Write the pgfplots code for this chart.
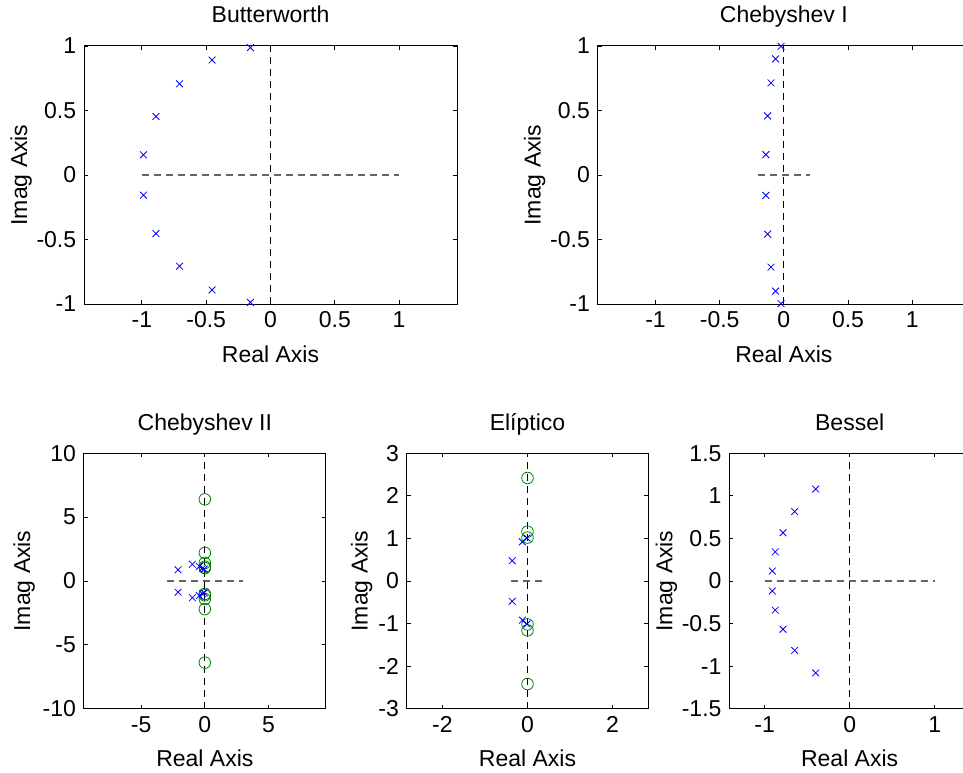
\documentclass[border=0pt]{standalone}
\usepackage{fontspec}
\setmainfont{Liberation Sans}
\usepackage{pgfplots}
\pgfplotsset{compat=1.18}

\definecolor{zgreen}{rgb}{0,0.5,0}

\pgfplotsset{
  pz/.style={
    scale only axis, anchor=south west, clip=false,
    axis line style={line width=1pt},
    tick style={black, line width=0.8pt},
    major tick length=4pt,
    /pgf/number format/assume math mode=true,
    title style={at={(axis description cs:0.5,1)}, anchor=base, yshift=17pt},
    xlabel style={at={(axis description cs:0.5,0)}, anchor=base, yshift=-58pt},
    xlabel={Real Axis}, ylabel={Imag Axis},
  },
  ylab/.style={ylabel style={at={(axis description cs:#1,0.5)}, anchor=base}},
  poles/.style={only marks, mark=x, mark size=4.8pt, blue, mark options={line width=0.8pt}},
  zeros/.style={only marks, mark=o, mark size=5.8pt, zgreen, mark options={line width=0.8pt}},
  hline/.style={black!60, line width=1.1pt, dash pattern=on 7pt off 5pt},
  vline/.style={black, line width=0.8pt, dash pattern=on 7pt off 5pt},
}

\begin{document}
\fontsize{23}{27}\selectfont
\begin{tikzpicture}
\path[use as bounding box] (0,0) rectangle (963pt,772pt);
\clip (0,0) rectangle (963pt,772pt);

% Butterworth, order 10
\begin{axis}[pz, ylab=-0.1528, at={(84pt,468pt)}, width=373pt, height=258pt,
  title={Butterworth},
  xmin=-1.45, xmax=1.45, ymin=-1, ymax=1,
  xtick={-1,-0.5,0,0.5,1}, ytick={-1,-0.5,0,0.5,1}]
  \addplot[hline] coordinates {(-1,0) (1,0)};
  \addplot[vline] coordinates {(0,-1) (0,1)};
  \addplot[poles] coordinates {
    (-0.1564,0.9877) (-0.4540,0.8910) (-0.7071,0.7071) (-0.8910,0.4540) (-0.9877,0.1564)
    (-0.1564,-0.9877) (-0.4540,-0.8910) (-0.7071,-0.7071) (-0.8910,-0.4540) (-0.9877,-0.1564)};
\end{axis}

% Chebyshev type I, order 10
\begin{axis}[pz, ylab=-0.1531, at={(597.7pt,468pt)}, width=372.3pt, height=258pt,
  title={Chebyshev I},
  xmin=-1.45, xmax=1.45, ymin=-1, ymax=1,
  xtick={-1,-0.5,0,0.5,1}, ytick={-1,-0.5,0,0.5,1}]
  \addplot[hline] coordinates {(-0.2,0) (0.2,0)};
  \addplot[vline] coordinates {(0,-1) (0,1)};
  \addplot[poles] coordinates {
    (-0.0222,0.9976) (-0.0644,0.9000) (-0.1003,0.7140) (-0.1263,0.4585) (-0.1400,0.1580)
    (-0.0222,-0.9976) (-0.0644,-0.9000) (-0.1003,-0.7140) (-0.1263,-0.4585) (-0.1400,-0.1580)};
\end{axis}

% Chebyshev type II, order 10
\begin{axis}[pz, ylab=-0.2216, at={(83.7pt,63.3pt)}, width=242.3pt, height=255.4pt,
  title={Chebyshev II},
  xmin=-9.5, xmax=9.5, ymin=-10, ymax=10,
  xtick={-5,0,5}, ytick={-10,-5,0,5,10}]
  \addplot[hline] coordinates {(-3,0) (3,0)};
  \addplot[vline] coordinates {(0,-10) (0,10)};
  \addplot[zeros] coordinates {
    (0,1.0125) (0,1.1223) (0,1.4142) (0,2.2027) (0,6.3925)
    (0,-1.0125) (0,-1.1223) (0,-1.4142) (0,-2.2027) (0,-6.3925)};
  \addplot[poles] coordinates {
    (-2.100,0.877) (-0.976,1.311) (-0.434,1.143) (-0.194,1.001) (-0.056,0.933)
    (-2.100,-0.877) (-0.976,-1.311) (-0.434,-1.143) (-0.194,-1.001) (-0.056,-0.933)};
\end{axis}

% Elliptic, order 6
\begin{axis}[pz, ylab=-0.1614, at={(406.7pt,63.3pt)}, width=241.6pt, height=255.4pt,
  title={Elíptico},
  xmin=-2.84, xmax=2.84, ymin=-3, ymax=3,
  xtick={-2,0,2}, ytick={-3,-2,-1,0,1,2,3}]
  \addplot[hline] coordinates {(-0.38,0) (0.38,0)};
  \addplot[vline] coordinates {(0,-3) (0,3)};
  \addplot[zeros] coordinates {
    (0,1.02) (0,1.16) (0,2.42) (0,-1.02) (0,-1.16) (0,-2.42)};
  \addplot[poles] coordinates {
    (-0.36,0.477) (-0.12,0.92) (-0.012,1.01)
    (-0.36,-0.477) (-0.12,-0.92) (-0.012,-1.01)};
\end{axis}

% Bessel, order 10
\begin{axis}[pz, ylab=-0.2368, at={(729.3pt,63.3pt)}, width=240.7pt, height=255.4pt,
  title={Bessel},
  xmin=-1.416, xmax=1.416, ymin=-1.5, ymax=1.5,
  xtick={-1,0,1}, ytick={-1.5,-1,-0.5,0,0.5,1,1.5}]
  \addplot[hline] coordinates {(-1,0) (1,0)};
  \addplot[vline] coordinates {(0,-1.5) (0,1.5)};
  \addplot[poles] coordinates {
    (-0.400,1.080) (-0.647,0.816) (-0.784,0.567) (-0.875,0.342) (-0.910,0.117)
    (-0.400,-1.080) (-0.647,-0.816) (-0.784,-0.567) (-0.875,-0.342) (-0.910,-0.117)};
\end{axis}
\end{tikzpicture}
\end{document}
